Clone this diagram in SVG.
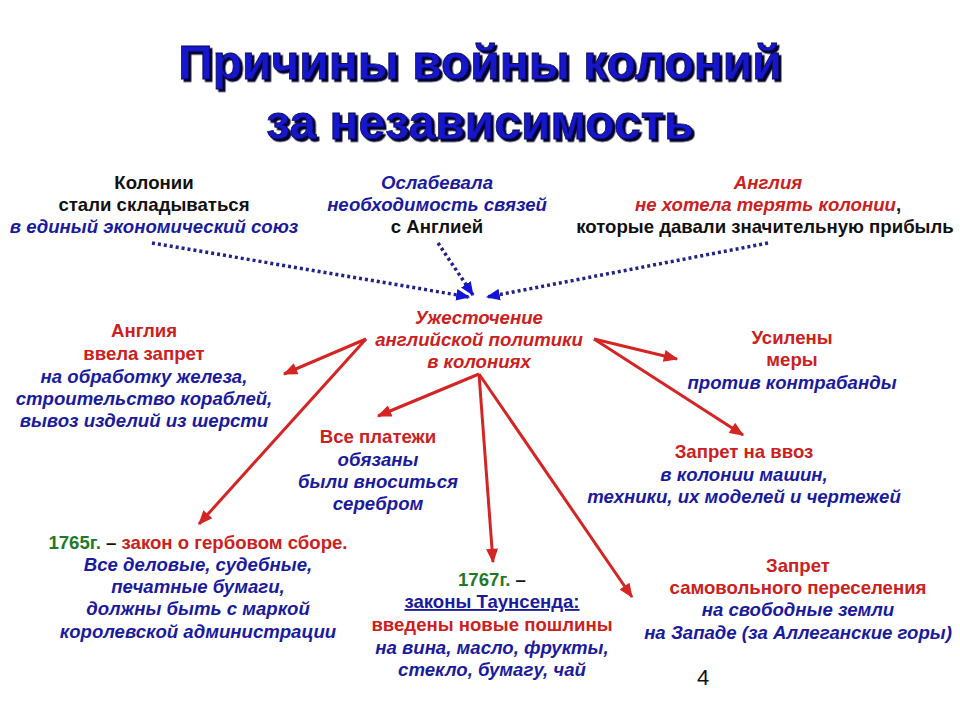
<svg xmlns="http://www.w3.org/2000/svg" width="960" height="720" viewBox="0 0 960 720">
<style>
text{font-family:"Liberation Sans",Arial,sans-serif;font-weight:bold;font-size:18.6px;text-anchor:middle}
.k{fill:#111}
.r{fill:#cc2020}
.ri{fill:#cc2020;font-style:italic}
.bl{fill:#1a1a9e;font-style:italic}
.bu{fill:#1a1a9e;text-decoration:underline}
.g{fill:#1f7a28}
.title{font-size:48px;fill:#1414cc;stroke:#0a0a50;stroke-width:0.8px;filter:url(#sh)}
.dot{fill:none;stroke:#22228a;stroke-width:3.5;stroke-dasharray:3 3}
.red{fill:none;stroke:#d42424;stroke-width:3}
</style>
<defs>
<filter id="sh" x="-5%" y="-20%" width="110%" height="140%"><feDropShadow dx="2.5" dy="2.5" stdDeviation="0.3" flood-color="#05052a" flood-opacity="1"/></filter>
<marker id="ab" viewBox="0 0 12 10" refX="11" refY="5" markerWidth="14" markerHeight="12" markerUnits="userSpaceOnUse" orient="auto"><path d="M0,0 L12,5 L0,10 Z" fill="#1414d8"/></marker>
<marker id="ar" viewBox="0 0 12 10" refX="11" refY="5" markerWidth="16" markerHeight="12" markerUnits="userSpaceOnUse" orient="auto"><path d="M0,0 L12,5 L0,10 Z" fill="#d42424"/></marker>
</defs>
<rect width="960" height="720" fill="#fff"/>
<g id="title">
<text class="title" x="480" y="79">Причины войны колоний</text>
<text class="title" x="480" y="139">за независимость</text>
</g>
<g id="connectors">
<path class="dot" d="M152,243 L469,297" marker-end="url(#ab)"/>
<path class="dot" d="M438,243 L473,295" marker-end="url(#ab)"/>
<path class="dot" d="M768,243 L487,297" marker-end="url(#ab)"/>
<path class="red" d="M366,339 L284,374" marker-end="url(#ar)"/>
<path class="red" d="M366,339 L199,524" marker-end="url(#ar)"/>
<path class="red" d="M479,374 L378,416" marker-end="url(#ar)"/>
<path class="red" d="M479,374 L493,562" marker-end="url(#ar)"/>
<path class="red" d="M479,374 L632,597" marker-end="url(#ar)"/>
<path class="red" d="M594,339 L677,359" marker-end="url(#ar)"/>
<path class="red" d="M594,339 L743,435" marker-end="url(#ar)"/>
</g>
<g id="n-union">
<text x="154" y="189" class="k">Колонии</text>
<text x="154" y="211" class="k">стали складываться</text>
<text x="154" y="233" class="bl">в единый экономический союз</text>
</g>
<g id="n-ties">
<text x="437" y="189" class="bl">Ослабевала</text>
<text x="437" y="211" class="bl">необходимость связей</text>
<text x="437" y="233" class="k">с Англией</text>
</g>
<g id="n-england">
<text x="768" y="189" class="ri">Англия</text>
<text x="768" y="211"><tspan class="ri">не хотела терять колонии</tspan><tspan class="k">,</tspan></text>
<text x="765" y="233" class="k">которые давали значительную прибыль</text>
</g>
<g id="n-policy">
<text x="479" y="324" class="ri">Ужесточение</text>
<text x="479" y="346" class="ri">английской политики</text>
<text x="479" y="368" class="ri">в колониях</text>
</g>
<g id="n-ban">
<text x="144" y="337" class="r">Англия</text>
<text x="144" y="360" class="r">ввела запрет</text>
<text x="144" y="383" class="bl">на обработку железа,</text>
<text x="144" y="405" class="bl">строительство кораблей,</text>
<text x="144" y="427" class="bl">вывоз изделий из шерсти</text>
</g>
<g id="n-smuggling">
<text x="792" y="344" class="r">Усилены</text>
<text x="792" y="366" class="r">меры</text>
<text x="792" y="389" class="bl">против контрабанды</text>
</g>
<g id="n-import">
<text x="744" y="458" class="r">Запрет на ввоз</text>
<text x="744" y="481" class="bl">в колонии машин,</text>
<text x="744" y="503" class="bl">техники, их моделей и чертежей</text>
</g>
<g id="n-silver">
<text x="378" y="443" class="r">Все платежи</text>
<text x="378" y="466" class="bl">обязаны</text>
<text x="378" y="488" class="bl">были вноситься</text>
<text x="378" y="510" class="bl">серебром</text>
</g>
<g id="n-1765">
<text x="198" y="549"><tspan class="g">1765г.</tspan><tspan class="k"> – </tspan><tspan class="r">закон о гербовом сборе.</tspan></text>
<text x="198" y="571" class="bl">Все деловые, судебные,</text>
<text x="198" y="593" class="bl">печатные бумаги,</text>
<text x="198" y="615" class="bl">должны быть с маркой</text>
<text x="198" y="638" class="bl">королевской администрации</text>
</g>
<g id="n-1767">
<text x="492" y="586"><tspan class="g">1767г.</tspan><tspan class="k"> –</tspan></text>
<text x="492" y="608" class="bu">законы Таунсенда:</text>
<text x="492" y="631" class="r">введены новые пошлины</text>
<text x="492" y="654" class="bl">на вина, масло, фрукты,</text>
<text x="492" y="676" class="bl">стекло, бумагу, чай</text>
</g>
<g id="n-west">
<text x="798" y="572" class="r">Запрет</text>
<text x="798" y="594" class="r">самовольного переселения</text>
<text x="798" y="616" class="bl">на свободные земли</text>
<text x="798" y="639" class="bl">на Западе (за Аллеганские горы)</text>
</g>
<text x="703" y="685" style="font-weight:normal;font-size:22px;fill:#111">4</text>
</svg>
